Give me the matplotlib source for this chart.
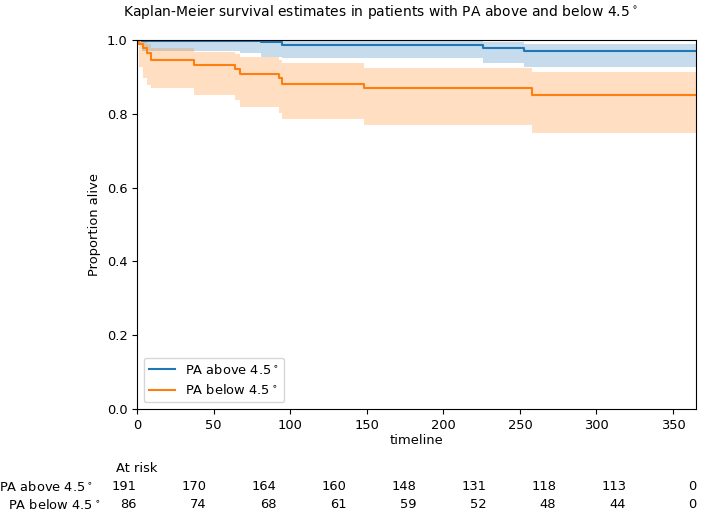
import numpy as np
import matplotlib
matplotlib.use("Agg")
from matplotlib import pyplot as plt

# PA above 4.5 deg: step times (days), survival, CI
above_t = [0, 3, 67, 81, 95, 226, 253, 365]
above_s = [1.0, 0.998, 0.998, 0.994, 0.986, 0.979, 0.970, 0.970]
above_lo = [0.99, 0.971, 0.964, 0.955, 0.950, 0.938, 0.928, 0.928]
above_hi = [1.0, 1.0, 1.0, 0.998, 0.997, 0.994, 0.988, 0.988]

# PA below 4.5 deg
below_t = [0, 1.3, 4, 6.7, 9, 37, 64, 67, 93, 95, 148, 258, 365]
below_s = [1.0, 0.988, 0.977, 0.965, 0.947, 0.932, 0.922, 0.909, 0.896, 0.881, 0.869, 0.851, 0.851]
below_lo = [1.0, 0.928, 0.896, 0.878, 0.869, 0.851, 0.837, 0.819, 0.801, 0.786, 0.770, 0.747, 0.747]
below_hi = [1.0, 0.998, 0.995, 0.990, 0.978, 0.968, 0.962, 0.955, 0.947, 0.937, 0.925, 0.914, 0.914]

# at-risk table
risk_times = [0, 45.625, 91.25, 136.875, 182.5, 228.125, 273.75, 319.375, 365]
risk_above = [191, 170, 164, 160, 148, 131, 118, 113, 0]
risk_below = [86, 74, 68, 61, 59, 52, 48, 44, 0]

lab_above = "PA above 4.5$^\\circ$"
lab_below = "PA below 4.5$^\\circ$"

W, H = 709, 517
fig = plt.figure(figsize=(W / 100, H / 100), dpi=100)
ax = fig.add_axes([137 / W, 1 - 409 / H, (696 - 137) / W, (409 - 40) / H])

fs = 9.4
c1 = "#1f77b4"
c2 = "#ff7f0e"
ax.fill_between(above_t, above_lo, above_hi, step="post", color=c1, alpha=0.25, linewidth=0)
ax.fill_between(below_t, below_lo, below_hi, step="post", color=c2, alpha=0.25, linewidth=0)
ax.step(above_t, above_s, where="post", color=c1, lw=1.5, label=lab_above)
ax.step(below_t, below_s, where="post", color=c2, lw=1.5, label=lab_below)

ax.set_xlim(0, 365)
ax.set_ylim(0, 1.0)
ax.set_xticks(np.arange(0, 351, 50))
ax.tick_params(labelsize=fs)
ax.set_xlabel("timeline", fontsize=fs, labelpad=2)
ax.set_ylabel("Proportion alive", fontsize=fs)
ax.legend(loc="lower left", fontsize=fs)

fig.text(380 / W, 1 - 12 / H,
         "Kaplan-Meier survival estimates in patients with PA above and below 4.5$^\\circ$",
         ha="center", va="center", fontsize=10)

# at risk counts
tr = ax.get_xaxis_transform()
fig.text(137 / W, 1 - 469 / H, "At risk", ha="center", va="center", fontsize=fs)
fig.text(93 / W, 1 - 487 / H, lab_above, ha="right", va="center", fontsize=fs)
fig.text(100 / W, 1 - 505 / H, lab_below, ha="right", va="center", fontsize=fs)
y1 = -(487 - 409) / (409 - 40)
y2 = -(505 - 409) / (409 - 40)
for t, a, b in zip(risk_times, risk_above, risk_below):
    ax.text(t, y1, str(a), transform=tr, ha="right", va="center", fontsize=fs, clip_on=False)
    ax.text(t, y2, str(b), transform=tr, ha="right", va="center", fontsize=fs, clip_on=False)

fig.savefig("out.png", dpi=100)
